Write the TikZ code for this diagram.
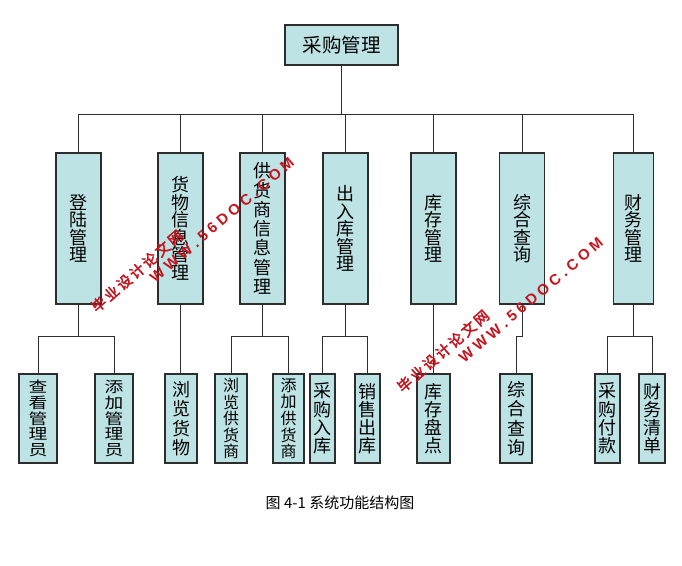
\documentclass[tikz,border=0pt]{standalone}
\usepackage{fontspec}
\newfontfamily\cjk{Noto Sans CJK SC}
\newfontfamily\cjkw[FakeStretch=1.25]{Noto Sans CJK SC}
\newfontfamily\wmcjk[FakeBold=2.5]{Noto Sans CJK SC}
\newfontfamily\wmlat{Liberation Sans}
\newcommand\wk{\kern2.4pt}
\newcommand\wl{\kern4pt}
\definecolor{boxfill}{RGB}{190,227,229}
\definecolor{wmred}{RGB}{200,18,28}
\definecolor{edge}{RGB}{45,45,45}
\tikzset{
  box/.style={draw=edge, fill=boxfill, line width=1.3pt, inner sep=0pt, align=center},
  lvltop/.style={box, minimum width=113pt, minimum height=40pt, font=\cjk\fontsize{19.5}{20}\selectfont},
  lvltwo/.style={box, minimum width=45pt, minimum height=151pt, font=\cjk\fontsize{18}{17.5}\selectfont},
  lvlthree/.style={box, minimum height=89pt, font=\cjk\fontsize{18}{18.2}\selectfont},
  lvlfive/.style={box, minimum height=89pt, font=\cjkw\fontsize{15}{15.6}\selectfont},
  conn/.style={draw=edge, line width=1pt},
  wmark/.style={text=wmred, inner sep=0pt, font=\wmcjk\fontsize{14.5}{14.5}\selectfont},
  wmarkl/.style={text=wmred, inner sep=0pt, font=\wmlat\bfseries\fontsize{15}{15}\selectfont}
}
\begin{document}
\begin{tikzpicture}[x=1pt,y=-1pt]
\useasboundingbox[fill=white] (0,0) rectangle (682,565);
% top
\node[lvltop] (top) at (341.5,45) {采购管理};
% level two
\node[lvltwo] (A) at (78.5,228.5) {登\\陆\\管\\理};
\node[lvltwo] (B) at (180.5,228.5) {货\\物\\信\\息\\管\\理};
\node[lvltwo, font=\cjk\fontsize{18}{19.3}\selectfont] (C) at (262.5,228.5) {供\\货\\商\\信\\息\\管\\理};
\node[lvltwo] (D) at (345.5,228.5) {出\\入\\库\\管\\理};
\node[lvltwo] (E) at (433.5,228.5) {库\\存\\管\\理};
\node[lvltwo] (F) at (522,228.5) {综\\合\\查\\询};
\node[lvltwo, minimum width=40pt] (G) at (633.5,228.5) {财\\务\\管\\理};
% level three
\node[lvlfive, minimum width=38pt] (a1) at (38,418.5) {查\\看\\管\\理\\员};
\node[lvlfive, minimum width=38pt] (a2) at (114,418.5) {添\\加\\管\\理\\员};
\node[lvlthree, minimum width=32pt, font=\cjk\fontsize{18}{19.3}\selectfont] (b1) at (181,418.5) {浏\\览\\货\\物};
\node[lvlfive, minimum width=32pt, font=\cjk\fontsize{16}{16.6}\selectfont] (c1) at (231,418.5) {浏\\览\\供\\货\\商};
\node[lvlfive, minimum width=31pt, font=\cjk\fontsize{16}{16.6}\selectfont] (c2) at (288.5,418.5) {添\\加\\供\\货\\商};
\node[lvlthree, minimum width=25pt] (d1) at (322.5,418.5) {采\\购\\入\\库};
\node[lvlthree, minimum width=25pt] (d2) at (367.5,418.5) {销\\售\\出\\库};
\node[lvlthree, minimum width=33pt] (e1) at (433.5,418.5) {库\\存\\盘\\点};
\node[lvlthree, minimum width=32pt, font=\cjk\fontsize{18}{19.3}\selectfont] (f1) at (516,418.5) {综\\合\\查\\询};
\node[lvlthree, minimum width=25pt] (g1) at (607.5,418.5) {采\\购\\付\\款};
\node[lvlthree, minimum width=26pt] (g2) at (652,418.5) {财\\务\\清\\单};
% connectors top -> level two
\foreach \n in {A,B,C,D,E,F,G}
  \draw[conn] (top.south) -- ++(0,49) -| (\n.north);
% connectors level two -> level three
\draw[conn] (A.south) -- ++(0,32) -| (a1.north);
\draw[conn] (A.south) -- ++(0,32) -| (a2.north);
\draw[conn] (B.south) -- (b1.north -| B.south);
\draw[conn] (C.south) -- ++(0,32) -| (c1.north);
\draw[conn] (C.south) -- ++(0,32) -| (c2.north);
\draw[conn] (D.south) -- ++(0,32) -| (d1.north);
\draw[conn] (D.south) -- ++(0,32) -| (d2.north);
\draw[conn] (E.south) -- (e1.north);
\draw[conn] (F.south) -- ++(0,32) -| (f1.north);
\draw[conn] (G.south) -- ++(0,32) -| (g1.north);
\draw[conn] (G.south) -- ++(0,32) -| (g2.north);
% caption
\node[font=\cjk\fontsize{15}{18}\selectfont, inner sep=0pt] (cap) at (340,503) {图 4-1 系统功能结构图};
% watermarks
\node[wmark, rotate=41] (wm1) at (137,271) {毕\wk 业\wk 设\wk 计\wk 论\wk 文\wk 网};
\node[wmarkl, rotate=40.5] (wm2) at (222,220) {W\wl W\wl W\wl .\wl 5\wl 6\wl D\wl O\wl C\wl .\wl C\wl O\wl M};
\node[wmark, rotate=41] (wm3) at (443,351) {毕\wk 业\wk 设\wk 计\wk 论\wk 文\wk 网};
\node[wmarkl, rotate=40.5] (wm4) at (531,300) {W\wl W\wl W\wl .\wl 5\wl 6\wl D\wl O\wl C\wl .\wl C\wl O\wl M};
\end{tikzpicture}
\end{document}
